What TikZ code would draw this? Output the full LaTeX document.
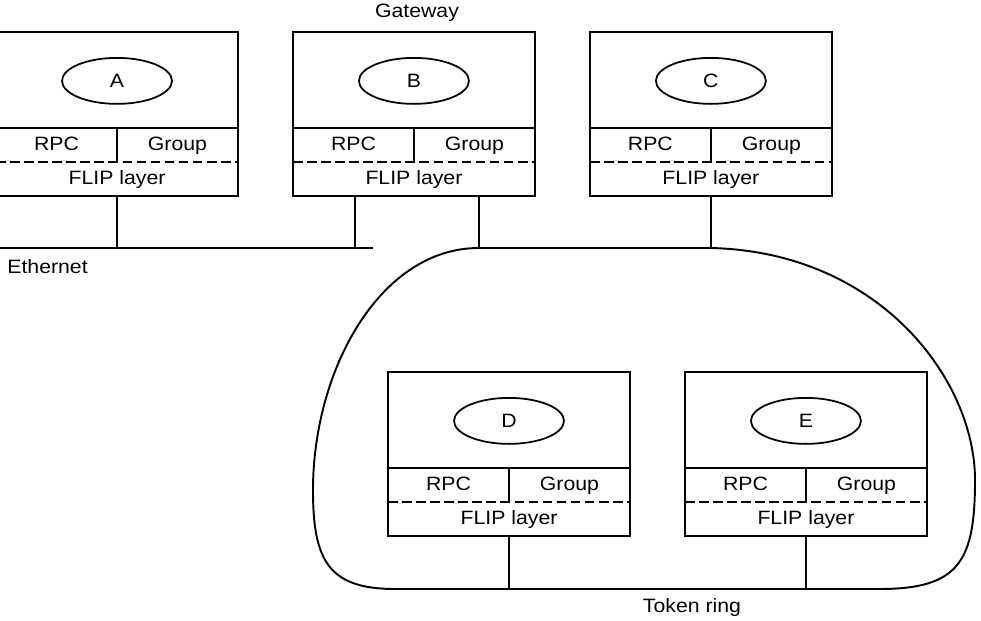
\documentclass[tikz,border=0pt]{standalone}
\usepackage{fontspec}
\setmainfont{Liberation Sans}[FakeStretch=1.1]
\usetikzlibrary{positioning,shapes.geometric}
\tikzset{
  every node/.style={font=\fontsize{11}{13}\selectfont},
  host/.style={draw, line width=1.1pt, minimum width=4.84cm, minimum height=3.28cm, inner sep=0pt, outer sep=0pt},
  proc/.style={draw, ellipse, line width=1pt, minimum width=2.2cm, minimum height=0.92cm, inner sep=0pt},
  flip/.style={minimum width=4.84cm, minimum height=0.68cm, inner sep=0pt, outer sep=0pt, text height=1.6ex, text depth=0.4ex, anchor=south},
  half/.style={minimum width=2.42cm, minimum height=0.68cm, inner sep=0pt, outer sep=0pt, text height=1.6ex, text depth=0.4ex},
  wire/.style={line width=1.1pt},
  sep/.style={line width=1pt, dash pattern=on 5.5pt off 2.5pt},
  lbl/.style={inner sep=0pt},
}
\begin{document}
\begin{tikzpicture}[x=0.02cm, y=-0.02cm, node distance=1.1cm]
\clip (0,0) rectangle (981,621);
% hosts
\node[host] (hA) at (117,114) {};
\node[host, right=of hA] (hB) {};
\node[host, right=of hB] (hC) {};
\node[host] (hD) at (509,454) {};
\node[host, right=of hD] (hE) {};
% inside A
\node[proc, below=0.5cm of hA.north] (pA) {A};
\node[flip] (fA) at (hA.south) {FLIP layer};
\node[half, above right=0pt and 0pt of fA.north west] (rA) {RPC};\node[half, right=0pt of rA] (gA) {Group};
\draw[wire](rA.north west)--(gA.north east)(rA.north east)--(rA.south east);\draw[sep](fA.north west)--(fA.north east);
% inside B
\node[proc, below=0.5cm of hB.north] (pB) {B};
\node[flip] (fB) at (hB.south) {FLIP layer};
\node[half, above right=0pt and 0pt of fB.north west] (rB) {RPC};\node[half, right=0pt of rB] (gB) {Group};
\draw[wire](rB.north west)--(gB.north east)(rB.north east)--(rB.south east);\draw[sep](fB.north west)--(fB.north east);
% inside C
\node[proc, below=0.5cm of hC.north] (pC) {C};
\node[flip] (fC) at (hC.south) {FLIP layer};
\node[half, above right=0pt and 0pt of fC.north west] (rC) {RPC};\node[half, right=0pt of rC] (gC) {Group};
\draw[wire](rC.north west)--(gC.north east)(rC.north east)--(rC.south east);\draw[sep](fC.north west)--(fC.north east);
% inside D
\node[proc, below=0.5cm of hD.north] (pD) {D};
\node[flip] (fD) at (hD.south) {FLIP layer};
\node[half, above right=0pt and 0pt of fD.north west] (rD) {RPC};\node[half, right=0pt of rD] (gD) {Group};
\draw[wire](rD.north west)--(gD.north east)(rD.north east)--(rD.south east);\draw[sep](fD.north west)--(fD.north east);
% inside E
\node[proc, below=0.5cm of hE.north] (pE) {E};
\node[flip] (fE) at (hE.south) {FLIP layer};
\node[half, above right=0pt and 0pt of fE.north west] (rE) {RPC};\node[half, right=0pt of rE] (gE) {Group};
\draw[wire](rE.north west)--(gE.north east)(rE.north east)--(rE.south east);\draw[sep](fE.north west)--(fE.north east);
% ethernet
\coordinate (ethW) at (0,248);\coordinate (ethE) at (373,248);
\coordinate (gwE) at ([xshift=1.24cm]hB.south west);\coordinate (gwT) at ([xshift=-1.12cm]hB.south east);
\draw[wire](ethW)--(ethE);
\draw[wire](hA.south)--(hA.south |- ethW);\draw[wire](gwE)--(gwE |- ethW);
% token ring
\coordinate (ringNW) at (gwT |- ethW);\coordinate (ringNE) at (hC.south |- ethW);\coordinate (ringS) at (0,589);
\draw[wire](gwT)--(ringNW);\draw[wire](hC.south)--(ringNE);
\draw[wire](ringNW)--(ringNE) .. controls (880,252) and (975,380) .. (975,480) .. controls (975,560) and (960,589) .. (880,589) -- (395,589) .. controls (328,589) and (313,560) .. (313,490) .. controls (313,370) and (380,248) .. (ringNW) -- cycle;
\draw[wire](hD.south)--(hD.south |- ringS);\draw[wire](hE.south)--(hE.south |- ringS);
% labels
\node[lbl] (gw) at (417,13) {Gateway};
\node[lbl, anchor=west] (eth) at (7,267) {Ethernet};
\node[lbl] (tr) at (692,608) {Token ring};
\end{tikzpicture}
\end{document}
